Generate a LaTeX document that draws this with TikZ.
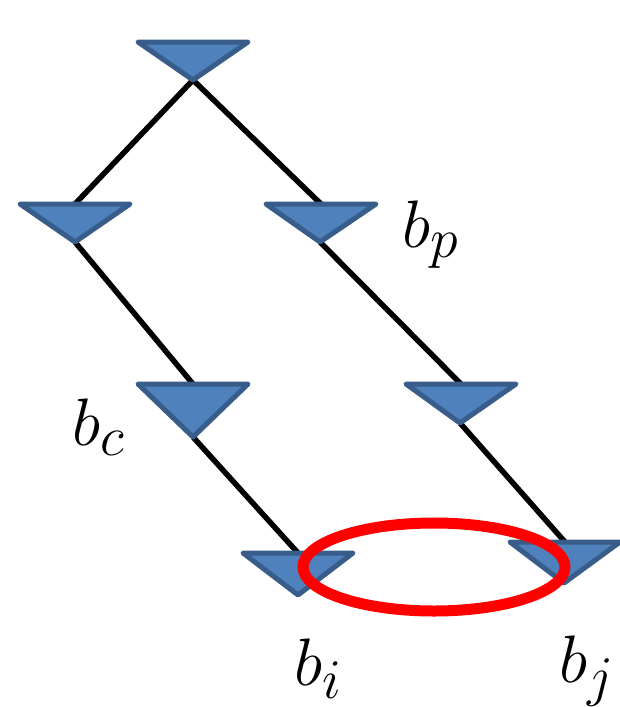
\documentclass[tikz,border=0pt]{standalone}
\definecolor{trifill}{HTML}{4F81BD}
\definecolor{triline}{HTML}{385D8A}
\tikzset{
  tri/.style={fill=trifill, draw=triline, line width=5pt, line join=round},
  edge/.style={draw=black, line width=5.5pt},
  ring/.style={draw=red, line width=11pt},
  lbl/.style={anchor=base west, inner sep=0pt, font=\Huge, scale=2.7}
}
\begin{document}
\begin{tikzpicture}[x=1pt, y=-1pt]
\useasboundingbox (0,0) rectangle (619,707);
% triangle top centres (t) and apexes (a)
\coordinate (t1) at (193,42);  \coordinate (a1) at (193,80);
\coordinate (t2) at (75,204);  \coordinate (a2) at (75,242);
\coordinate (t3) at (321,204); \coordinate (a3) at (320,242);
\coordinate (t4) at (193,384); \coordinate (a4) at (193,437);
\coordinate (t5) at (461,384); \coordinate (a5) at (460,423);
\coordinate (t6) at (298,553); \coordinate (a6) at (298,595);
\coordinate (t7) at (565,542); \coordinate (a7) at (564,583);
% connectors
\draw[edge] (a1) -- (t2);
\draw[edge] (a1) -- (t3);
\draw[edge] (a2) -- (t4);
\draw[edge] (a3) -- (t5);
\draw[edge] (a4) -- (t6);
\draw[edge] (a5) -- (t7);
% triangles
\foreach \i in {1,...,7} {
  \draw[tri] (t\i) ++(-55,0) -- ++(110,0) -- (a\i) -- cycle;
}
% ellipse
\draw[ring] (434,567) ellipse [x radius=131, y radius=44];
% labels
\node[lbl] (lp) at (402,247) {$b_p$};
\node[lbl] (lc) at (72,445) {$b_c$};
\node[lbl] (li) at (294,685) {$b_i$};
\node[lbl] (lj) at (559,682) {$b_j$};
\end{tikzpicture}
\end{document}
